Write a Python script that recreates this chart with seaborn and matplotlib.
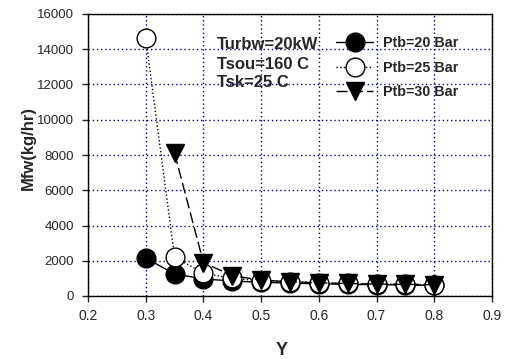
import matplotlib
matplotlib.use("Agg")
import matplotlib.pyplot as plt
import seaborn as sns
import pandas as pd

x20 = [0.30, 0.35, 0.40, 0.45, 0.50, 0.55, 0.60, 0.65, 0.70, 0.75, 0.80]
y20 = [2150, 1250, 970, 850, 780, 730, 690, 660, 640, 620, 600]
x25 = [0.30, 0.35, 0.40, 0.45, 0.50, 0.55, 0.60, 0.65, 0.70, 0.75, 0.80]
y25 = [14650, 2200, 1300, 1000, 870, 800, 750, 710, 680, 660, 640]
x30 = [0.35, 0.40, 0.45, 0.50, 0.55, 0.60, 0.65, 0.70, 0.75, 0.80]
y30 = [8100, 1900, 1150, 900, 810, 750, 710, 680, 660, 640]
labels = ["Ptb=20 Bar", "Ptb=25 Bar", "Ptb=30 Bar"]
notes = ["Turbw=20kW", "Tsou=160 C", "Tsk=25 C"]
note_y = [14270, 13140, 12120]

sns.set_style("ticks")
plt.rcParams['font.family'] = ['Liberation Sans', 'DejaVu Sans']

fig = plt.figure(figsize=(5.1, 3.59), dpi=100)
ax = fig.add_axes([88/510, 1-296/359, (492-88)/510, (296-14)/359])

styles = [
    dict(marker='o', markerfacecolor='black', markeredgecolor='black', linestyle='-'),
    dict(marker='o', markerfacecolor='white', markeredgecolor='black', linestyle=':'),
    dict(marker='v', markerfacecolor='black', markeredgecolor='black', linestyle=(0, (8, 3))),
]
series = [(x20, y20), (x25, y25), (x30, y30)]
for (xs, ys), lab, st in zip(series, labels, styles):
    df = pd.DataFrame({"Y": xs, "Mfw": ys})
    sns.lineplot(data=df, x="Y", y="Mfw", ax=ax, color='black', linewidth=1.0,
                 markersize=13.5, markeredgewidth=1.0, label=lab, **st)

ax.set_xlim(0.2, 0.9)
ax.set_ylim(0, 16000)
ax.set_xticks([0.2, 0.3, 0.4, 0.5, 0.6, 0.7, 0.8, 0.9])
ax.set_xticklabels(["0.2", "0.3", "0.4", "0.5", "0.6", "0.7", "0.8", "0.9"])
ax.set_yticks(range(0, 16001, 2000))
ax.grid(True, color='#00008B', linestyle=(0, (1, 2)), linewidth=1.0)
ax.set_axisbelow(True)
ax.tick_params(labelsize=10, direction='out', length=4, width=1)
ax.tick_params(axis='y', labelsize=9.5, pad=6)
ax.tick_params(axis='x', pad=5)
for s in ax.spines.values():
    s.set_linewidth(1.0)
    s.set_color('black')
ax.set_xlabel("Y", fontsize=13, fontweight='bold')
ax.set_ylabel("Mfw(kg/hr)", fontsize=12, fontweight='bold')
ax.xaxis.set_label_coords(0.48, -0.163)
ax.yaxis.set_label_coords(-0.128, 0.525)

for t, yy in zip(notes, note_y):
    ax.text(0.4235, yy, t, fontsize=12, fontweight='bold', va='center', ha='left', zorder=5)

leg = ax.legend(loc='upper left', bbox_to_anchor=(0.614, 0.922), frameon=False,
                prop={'weight': 'bold', 'size': 10.3}, handlelength=2.6,
                handletextpad=0.65, labelspacing=0.75, borderaxespad=0.0, borderpad=0.0)

fig.savefig("out.png", dpi=100)
